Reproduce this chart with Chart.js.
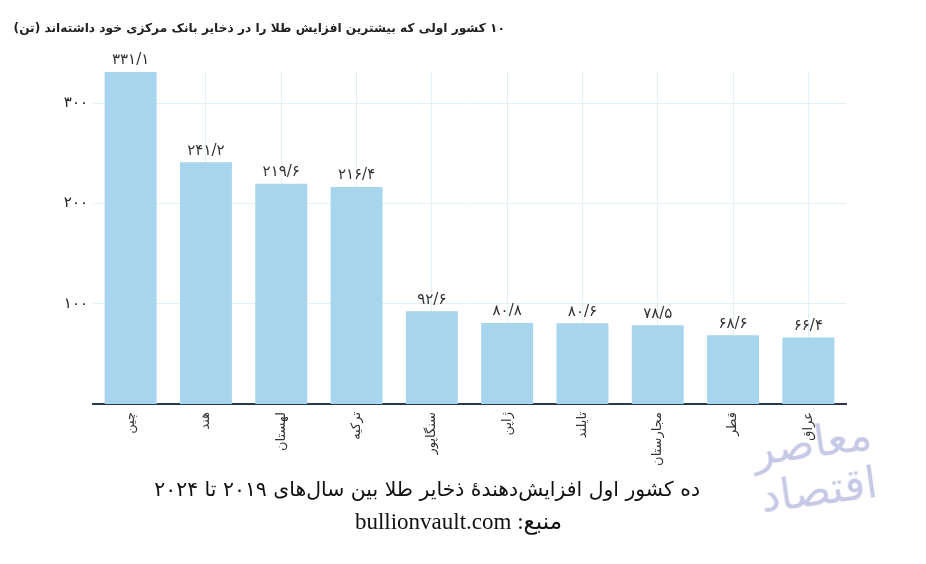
<!DOCTYPE html>
<html lang="fa">
<head>
<meta charset="utf-8">
<script src="https://cdn.jsdelivr.net/npm/chart.js@4/dist/chart.umd.min.js"></script>
<style>
body { margin: 0; background: #fff; font-family: "DejaVu Sans", sans-serif; }
#page { position: relative; width: 926px; height: 564px; overflow: hidden; }
canvas { position: absolute; left: 0; top: 0; }
.title { position: absolute; top: 21px; right: 421px; font-size: 12.2px; font-weight: bold; direction: rtl; white-space: nowrap; color: #222; }
.caption { position: absolute; top: 477px; right: 226px; font-size: 20.4px; direction: rtl; white-space: nowrap; color: #111; }
.source { position: absolute; top: 508px; right: 364px; font-size: 23px; direction: rtl; white-space: nowrap; color: #111; font-family: "Liberation Serif", "DejaVu Sans", serif; }
.logo { position: absolute; left: 728px; top: 418px; width: 175px; font-size: 44px; line-height: 48px; color: #c6c9e6; direction: rtl; text-align: center; transform: rotate(-8deg); }
</style>
</head>
<body>
<div id="page">
  <canvas id="chart" width="926" height="564"></canvas>
  <div class="title">۱۰ کشور اولی که بیشترین افزایش طلا را در ذخایر بانک مرکزی خود داشته‌اند (تن)</div>
  <div class="caption">ده کشور اول افزایش‌دهندهٔ ذخایر طلا بین سال‌های ۲۰۱۹ تا ۲۰۲۴</div>
  <div class="source">منبع: bullionvault.com</div>
  <div class="logo">معاصر<br>اقتصاد</div>
</div>
<script>
// داده‌ها
const countries = ['چین', 'هند', 'لهستان', 'ترکیه', 'سنگاپور', 'ژاپن', 'تایلند', 'مجارستان', 'قطر', 'عراق'];
const goldAdded = [331.1, 241.2, 219.6, 216.4, 92.6, 80.8, 80.6, 78.5, 68.6, 66.4];
const yTicks = [100, 200, 300];

const gridColor = '#e2f0f7';
const fontFamily = '"DejaVu Sans", sans-serif';

// اعداد فارسی با ممیز «/»
function toFa(v) {
    return String(v).replace('.', '/').replace(/\d/g, d => '۰۱۲۳۴۵۶۷۸۹'[d]);
}

// برچسب مقدار بالای هر ستون
const valueLabels = {
    id: 'valueLabels',
    afterDatasetsDraw(chart) {
        const ctx = chart.ctx;
        const meta = chart.getDatasetMeta(0);
        ctx.save();
        ctx.font = '15px ' + fontFamily;
        ctx.fillStyle = '#333';
        ctx.textAlign = 'center';
        ctx.textBaseline = 'bottom';
        meta.data.forEach((bar, i) => ctx.fillText(toFa(goldAdded[i]), bar.x, bar.y - 4));
        ctx.restore();
    }
};

new Chart(document.getElementById('chart'), {
    type: 'bar',
    data: {
        labels: countries,
        datasets: [{
            data: goldAdded,
            backgroundColor: '#a7d5ed',
            borderWidth: 0,
            categoryPercentage: 1,
            barPercentage: 0.69,
        }],
    },
    options: {
        responsive: false,
        animation: false,
        layout: { padding: { top: 72, right: 80, left: 0, bottom: 0 } },
        plugins: { legend: { display: false }, tooltip: { enabled: false } },
        scales: {
            x: {
                grid: { offset: false, color: gridColor, drawTicks: false },
                border: { display: true, color: '#27394d', width: 2 },
                ticks: { minRotation: 90, maxRotation: 90, padding: 8, color: '#333', font: { size: 13, family: fontFamily } },
                afterFit(scale) { scale.height = 160; },
            },
            y: {
                min: 0,
                max: 331.1,
                grid: { color: gridColor, drawTicks: false },
                border: { display: false },
                ticks: { padding: 5, color: '#222', font: { size: 15, family: fontFamily }, callback: v => toFa(v) },
                afterBuildTicks(scale) { scale.ticks = yTicks.map(v => ({ value: v })); },
                afterFit(scale) { scale.width = 93; },
            },
        },
    },
    plugins: [valueLabels],
});
</script>
</body>
</html>
